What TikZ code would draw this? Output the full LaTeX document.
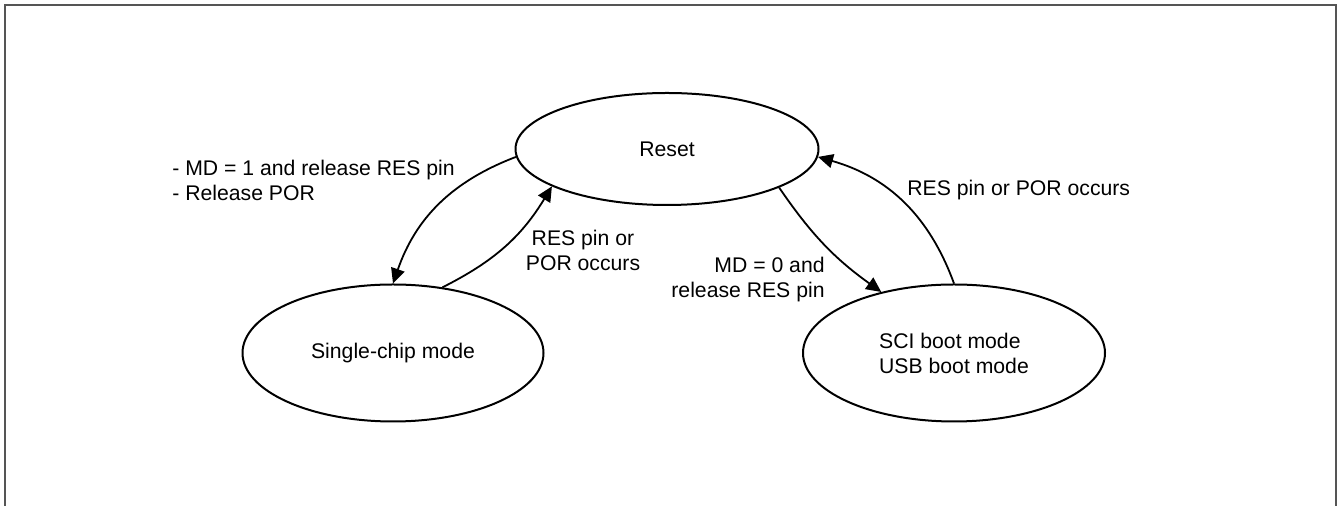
\documentclass[tikz,border=0pt]{standalone}
\usepackage{fontspec}
\setmainfont{Liberation Sans}
\usetikzlibrary{shapes.geometric,arrows.meta}
\definecolor{framegray}{RGB}{85,85,85}
\begin{document}
\begin{tikzpicture}[x=0.5pt,y=-0.5pt,
  state/.style={draw=black, line width=1pt, ellipse, inner sep=0pt, font=\fontsize{10.6}{12.5}\selectfont},
  lbl/.style={inner sep=0pt, font=\fontsize{10.6}{12.5}\selectfont},
  conn/.style={line width=0.9pt, -{Triangle[length=7.5pt,width=7pt]}}]
\useasboundingbox (0,0) rectangle (1339,506);
\draw[framegray, line width=1pt] (5,506) -- (5,5) -- (1336,5) -- (1336,506);
\node[state, minimum width=151.5pt, minimum height=56pt] (reset) at (667,149) {Reset};
\node[state, minimum width=150.5pt, minimum height=68.5pt] (single) at (393,353) {Single-chip mode};
\node[state, minimum width=151pt, minimum height=68.5pt, align=left] (boot) at (954,353) {SCI boot mode\\USB boot mode};
\draw[conn] (reset.183) to[bend right=25] (single.north);
\draw[conn] (single.53) to[bend right=16] (reset.198);
\draw[conn] (reset.341) to[bend right=10] (boot.140);
\draw[conn] (boot.north) to[bend right=27] (reset.357);
\node[lbl, anchor=west, align=left] (l1) at (172,180) {- MD = 1 and release RES pin\\- Release POR};
\node[lbl, align=center] (l2) at (583,250) {RES pin or\\POR occurs};
\node[lbl, anchor=east, align=right] (l3) at (825,280) {MD = 0 and\\release RES pin};
\node[lbl, anchor=west] (l4) at (907,190) {RES pin or POR occurs};
\end{tikzpicture}
\end{document}
